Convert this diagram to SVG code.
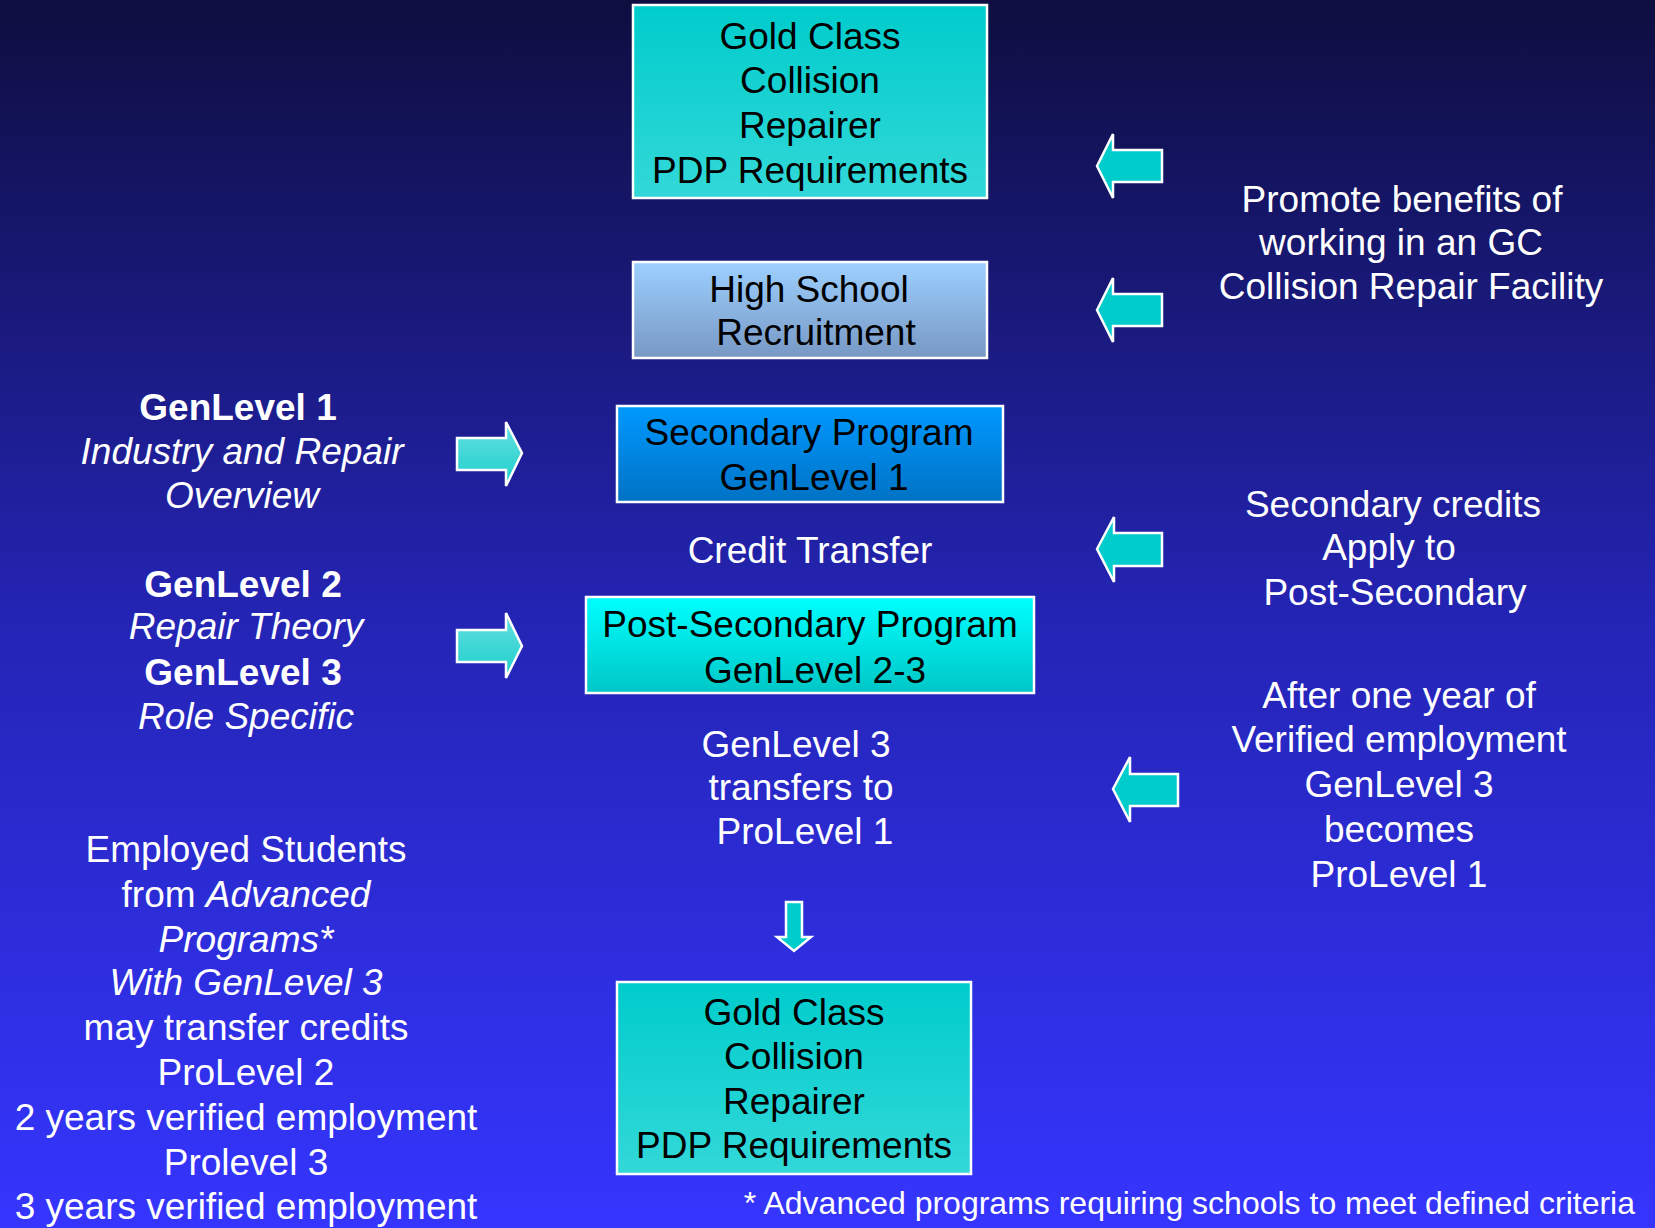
<svg xmlns="http://www.w3.org/2000/svg" width="1655" height="1228" viewBox="0 0 1655 1228">
<defs>
<linearGradient id="bg" x1="0" y1="0" x2="0" y2="1">
<stop offset="0" stop-color="#0e0e40"/>
<stop offset="0.5" stop-color="#2424b4"/>
<stop offset="1" stop-color="#3535ff"/>
</linearGradient>
<linearGradient id="gold" x1="0" y1="0" x2="0" y2="1">
<stop offset="0" stop-color="#00cccc"/>
<stop offset="1" stop-color="#33d8d8"/>
</linearGradient>
<linearGradient id="hs" x1="0" y1="0" x2="0" y2="1">
<stop offset="0" stop-color="#9dd0ff"/>
<stop offset="1" stop-color="#7898c4"/>
</linearGradient>
<linearGradient id="sec" x1="0" y1="0" x2="0" y2="1">
<stop offset="0" stop-color="#0099ff"/>
<stop offset="1" stop-color="#0072c4"/>
</linearGradient>
<linearGradient id="post" x1="0" y1="0" x2="0" y2="1">
<stop offset="0" stop-color="#00ffff"/>
<stop offset="1" stop-color="#00c6c6"/>
</linearGradient>
<linearGradient id="rarrow" x1="0" y1="0" x2="0" y2="1">
<stop offset="0" stop-color="#66e0e0"/>
<stop offset="1" stop-color="#1ccfcc"/>
</linearGradient>
</defs>
<style>
text{font-family:"Liberation Sans",Arial,sans-serif;font-size:37px;text-anchor:middle}
.box{stroke:#ffffff;stroke-width:2.5}
.dark{fill:#000000}
.w{fill:#ffffff}
.b{font-weight:bold}
.i{font-style:italic}
.la{fill:#00cccc;stroke:#ffffff;stroke-width:2.5}
.ra{fill:url(#rarrow);stroke:#ffffff;stroke-width:2.5}
</style>
<rect x="0" y="0" width="1655" height="1228" fill="url(#bg)"/>

<g id="node-gold-top">
<rect class="box" x="633" y="5" width="354" height="193" fill="url(#gold)"/>
<text class="dark" x="810" y="49">Gold Class</text>
<text class="dark" x="810" y="93">Collision</text>
<text class="dark" x="810" y="138">Repairer</text>
<text class="dark" x="810" y="183">PDP Requirements</text>
</g>

<g id="node-highschool">
<rect class="box" x="633" y="262" width="354" height="96" fill="url(#hs)"/>
<text class="dark" x="809" y="302">High School</text>
<text class="dark" x="816" y="345">Recruitment</text>
</g>

<g id="node-secondary">
<rect class="box" x="617" y="406" width="386" height="96" fill="url(#sec)"/>
<text class="dark" x="809" y="445">Secondary Program</text>
<text class="dark" x="814" y="490">GenLevel 1</text>
</g>

<g id="node-credit-transfer">
<text class="w" x="810" y="563">Credit Transfer</text>
</g>

<g id="node-postsecondary">
<rect class="box" x="586" y="597" width="448" height="96" fill="url(#post)"/>
<text class="dark" x="810" y="637">Post-Secondary Program</text>
<text class="dark" x="815" y="683">GenLevel 2-3</text>
</g>

<g id="node-transfers">
<text class="w" x="796" y="757">GenLevel 3</text>
<text class="w" x="801" y="800">transfers to</text>
<text class="w" x="805" y="844">ProLevel 1</text>
</g>

<g id="node-gold-bottom">
<rect class="box" x="617" y="982" width="354" height="192" fill="url(#gold)"/>
<text class="dark" x="794" y="1025">Gold Class</text>
<text class="dark" x="794" y="1069">Collision</text>
<text class="dark" x="794" y="1114">Repairer</text>
<text class="dark" x="794" y="1158">PDP Requirements</text>
</g>

<g id="node-genlevel1">
<text class="w b" x="238" y="420">GenLevel 1</text>
<text class="w i" x="242" y="464">Industry and Repair</text>
<text class="w i" x="242" y="508">Overview</text>
</g>

<g id="node-genlevel23">
<text class="w b" x="243" y="597">GenLevel 2</text>
<text class="w i" x="246" y="639">Repair Theory</text>
<text class="w b" x="243" y="685">GenLevel 3</text>
<text class="w i" x="246" y="729">Role Specific</text>
</g>

<g id="node-employed">
<text class="w" x="246" y="862">Employed Students</text>
<text class="w" x="246" y="907">from <tspan class="i">Advanced</tspan></text>
<text class="w i" x="246" y="952">Programs*</text>
<text class="w i" x="246" y="995">With GenLevel 3</text>
<text class="w" x="246" y="1040">may transfer credits</text>
<text class="w" x="246" y="1085">ProLevel 2</text>
<text class="w" x="246" y="1130">2 years verified employment</text>
<text class="w" x="246" y="1175">Prolevel 3</text>
<text class="w" x="246" y="1219">3 years verified employment</text>
</g>

<g id="node-promote">
<text class="w" x="1402" y="212">Promote benefits of</text>
<text class="w" x="1401" y="255">working in an GC</text>
<text class="w" x="1411" y="299">Collision Repair Facility</text>
</g>

<g id="node-seccredits">
<text class="w" x="1393" y="517">Secondary credits</text>
<text class="w" x="1389" y="560">Apply to</text>
<text class="w" x="1395" y="605">Post-Secondary</text>
</g>

<g id="node-afteryear">
<text class="w" x="1399" y="708">After one year of</text>
<text class="w" x="1399" y="752">Verified employment</text>
<text class="w" x="1399" y="797">GenLevel 3</text>
<text class="w" x="1399" y="842">becomes</text>
<text class="w" x="1399" y="887">ProLevel 1</text>
</g>

<g id="node-footnote">
<text class="w" x="1635" y="1214" style="font-size:32px;text-anchor:end">* Advanced programs requiring schools to meet defined criteria</text>
</g>

<g id="connectors">
<polygon class="la" points="1097,166 1113,134 1113,150 1162,150 1162,182 1113,182 1113,198"/>
<polygon class="la" points="1097,310 1113,278 1113,294 1162,294 1162,326 1113,326 1113,342"/>
<polygon class="la" points="1097,549 1114,517 1114,533 1162,533 1162,566 1114,566 1114,582"/>
<polygon class="la" points="1113,789 1130,757 1130,774 1178,774 1178,806 1130,806 1130,822"/>
<polygon class="ra" points="522,453 506,422 506,438 457,438 457,470 506,470 506,486"/>
<polygon class="ra" points="522,646 506,613 506,630 457,630 457,662 506,662 506,678"/>
<polygon class="la" points="786,902 802,902 802,937 811,937 794,951 777,937 786,937"/>
</g>
</svg>
